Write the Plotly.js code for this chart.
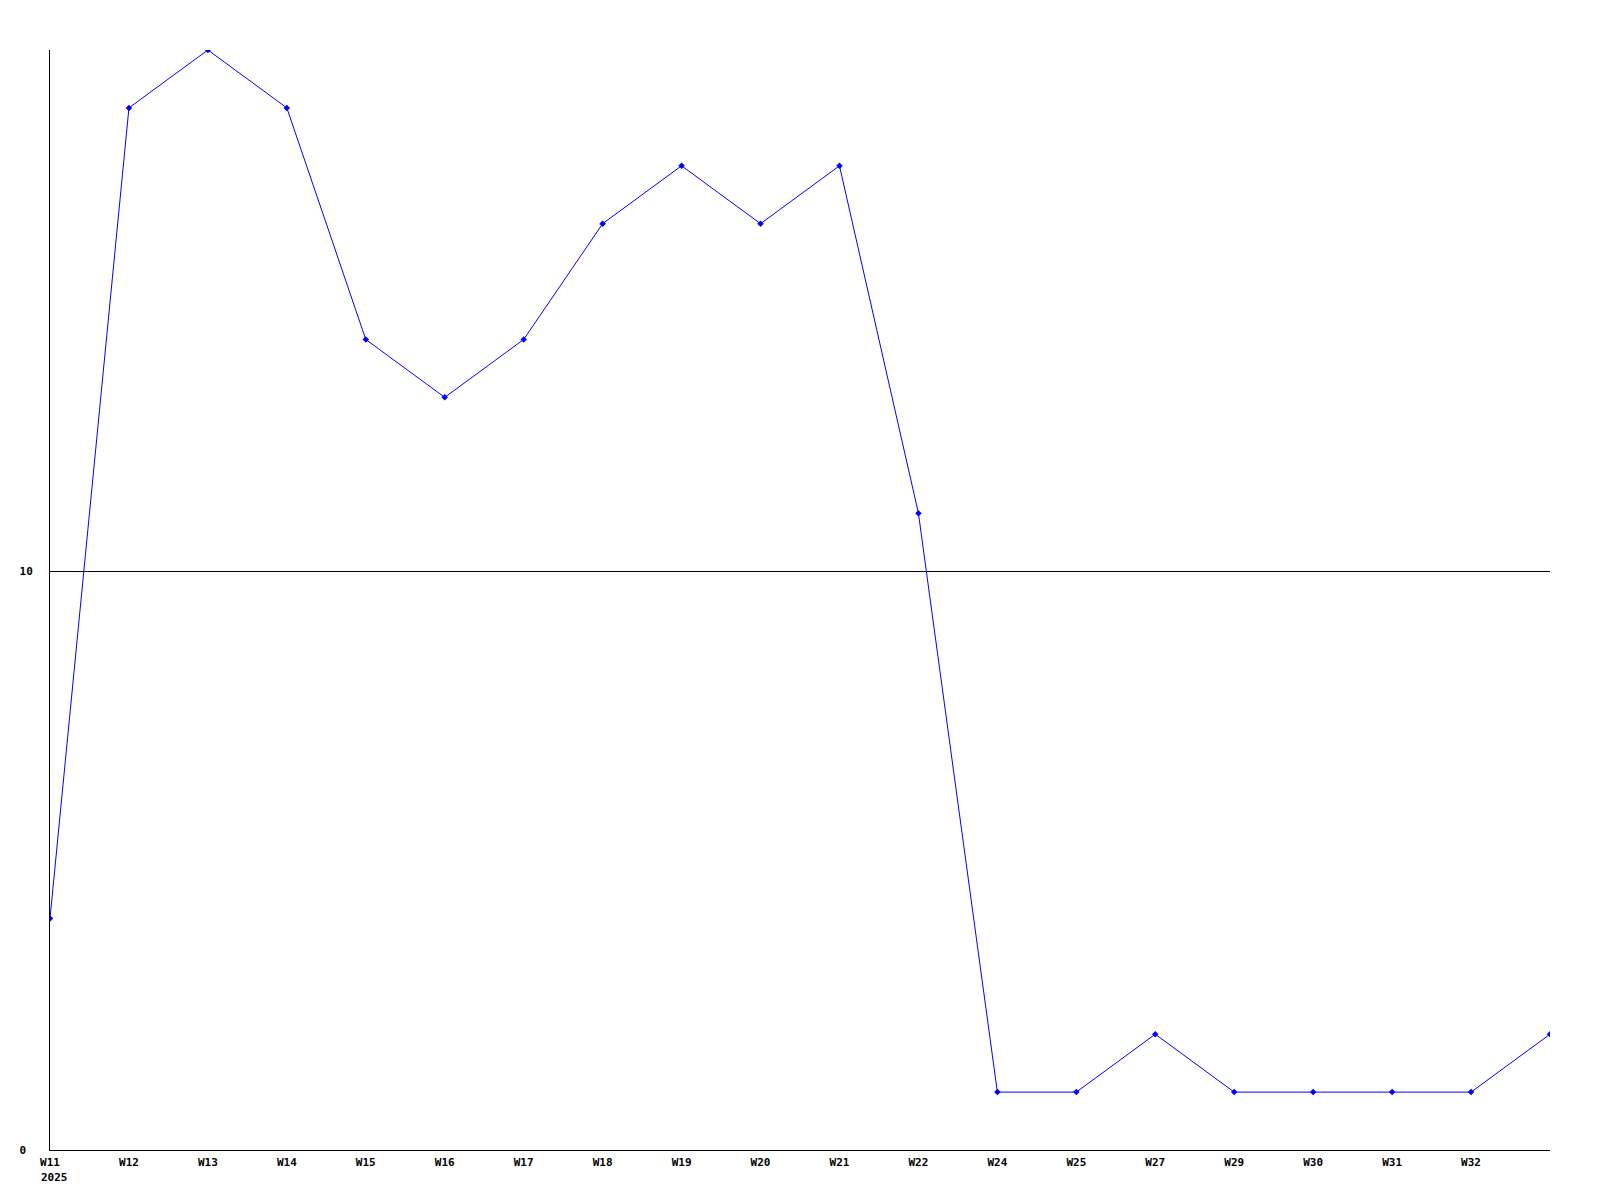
<!DOCTYPE html>
<html>
<head>
<meta charset="utf-8">
<script src="https://cdn.plot.ly/plotly-3.0.1.min.js"></script>
<style>html,body{margin:0;padding:0;background:#fff;}#chart{width:1600px;height:1200px;}</style>
</head>
<body>
<div id="chart"></div>
<script>
const weeks = ["W11","W12","W13","W14","W15","W16","W17","W18","W19","W20","W21","W22","W24","W25","W27","W29","W30","W31","W32","W33"];
const counts = [4,18,19,18,14,13,14,16,17,16,17,11,1,1,2,1,1,1,1,2];
const shownWeeks = weeks.slice(0, 19);
const yearLabel = "2025";
const yTicks = [0, 10];
const yTickText = ["0\u00a0", "10"];

const tickFont = {family: "DejaVu Sans Mono, monospace", size: 11, color: "#000", weight: "bold"};

Plotly.newPlot("chart", [{
  x: weeks,
  y: counts,
  type: "scatter",
  mode: "lines+markers",
  line: {color: "#0000ff", width: 1},
  marker: {color: "#0000ff", size: 5, symbol: "diamond"},
  cliponaxis: true,
  hoverinfo: "skip"
}], {
  width: 1600,
  height: 1200,
  paper_bgcolor: "#ffffff",
  plot_bgcolor: "#ffffff",
  showlegend: false,
  margin: {l: 50, r: 50, t: 50, b: 50, pad: 0},
  xaxis: {
    type: "category",
    range: [0, 19],
    tickvals: shownWeeks,
    ticktext: shownWeeks,
    showgrid: false,
    zeroline: false,
    showline: true,
    linecolor: "#000",
    linewidth: 1,
    ticks: "",
    tickfont: tickFont,
    ticklabelstandoff: 2
  },
  yaxis: {
    range: [0, 19],
    tickvals: yTicks,
    ticktext: yTickText,
    showgrid: true,
    gridcolor: "#000",
    gridwidth: 1,
    zeroline: false,
    showline: true,
    linecolor: "#000",
    linewidth: 1,
    ticks: "",
    tickfont: tickFont,
    ticklabelstandoff: 14
  },
  annotations: [{
    x: weeks[0],
    xref: "x",
    y: 0,
    yref: "paper",
    yanchor: "top",
    xanchor: "left",
    xshift: -11,
    yshift: -19,
    text: yearLabel,
    showarrow: false,
    font: tickFont
  }]
}, {displayModeBar: false, staticPlot: true});
</script>
</body>
</html>
